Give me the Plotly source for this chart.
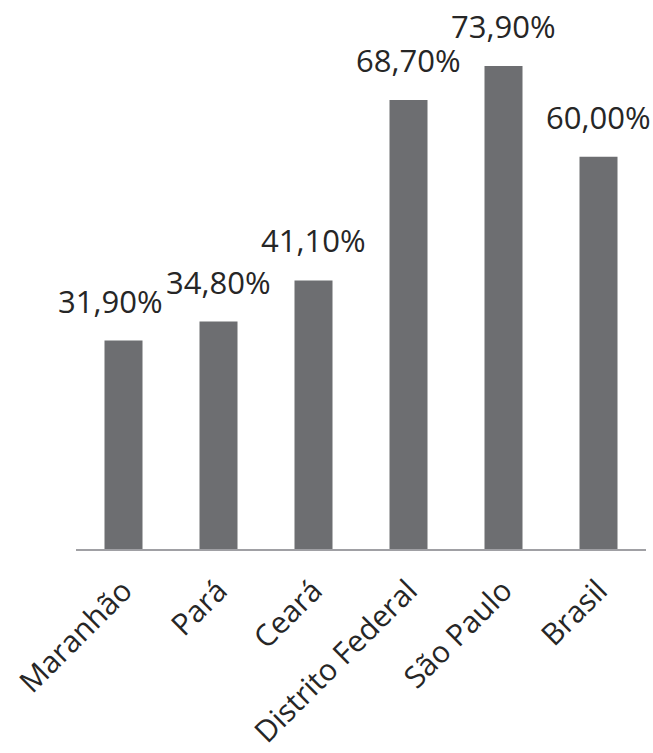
import plotly.graph_objects as go

categories = ["Maranhão", "Pará", "Ceará", "Distrito Federal", "São Paulo", "Brasil"]
values = [31.9, 34.8, 41.1, 68.7, 73.9, 60.0]
labels = ["31,90%", "34,80%", "41,10%", "68,70%", "73,90%", "60,00%"]
label_xshift = [-13, 0, 0, 0, 0, 0]

FONT = "Open Sans"
TXT = "#262626"

fig = go.Figure(go.Bar(
    x=categories, y=values,
    marker=dict(color="#6d6e71", line=dict(width=0)),
    hoverinfo="skip",
))

for c, v, t, dx in zip(categories, values, labels, label_xshift):
    fig.add_annotation(x=c, y=v, text=t, showarrow=False, yanchor="bottom",
                       xanchor="center", xshift=dx, yshift=17,
                       font=dict(family=FONT, size=31, color=TXT))

fig.update_layout(
    width=653, height=753,
    margin=dict(l=76, r=7, t=0, b=204, autoexpand=False),
    paper_bgcolor="white", plot_bgcolor="white",
    bargap=0.6,
    showlegend=False,
    xaxis=dict(showline=True, linecolor="#a0a0a4", linewidth=2, ticks="",
               range=[-0.5, len(categories) - 0.5], autorange=False,
               tickangle=-45, tickfont=dict(family=FONT, size=30, color=TXT),
               ticklabelstandoff=10,
               showgrid=False, automargin=False),
    yaxis=dict(range=[0, 84], autorange=False, visible=False, showgrid=False),
)

fig.write_html("out.html")
